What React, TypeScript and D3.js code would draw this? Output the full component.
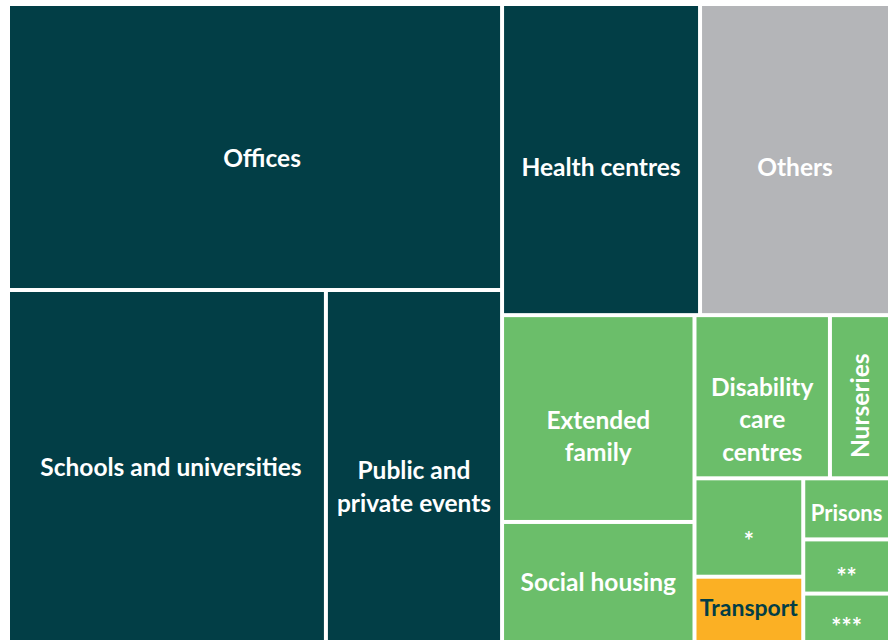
import React from "react";
import * as d3 from "d3";

// Categories (in tile order) and their relative sizes
const categories = [
  "Offices",
  "Schools and universities",
  "Public and private events",
  "Health centres",
  "Others",
  "Extended family",
  "Social housing",
  "Disability care centres",
  "Nurseries",
  "*",
  "Transport",
  "Prisons",
  "**",
  "***",
];
const values = [1413, 1119, 620, 616, 591, 398, 231, 221, 98, 107, 71, 53, 47, 42];
const groups = [
  "dark", "dark", "dark", "dark", "grey",
  "green", "green", "green", "green", "green",
  "orange", "green", "green", "green",
];
// Label lines for each category
const labelLines = [
  ["Offices"],
  ["Schools and universities"],
  ["Public and", "private events"],
  ["Health centres"],
  ["Others"],
  ["Extended", "family"],
  ["Social housing"],
  ["Disability", "care", "centres"],
  ["Nurseries"],
  ["*"],
  ["Transport"],
  ["Prisons"],
  ["**"],
  ["***"],
];

// Tiling structure: "h" = side by side, "v" = stacked
type Node = { dir?: string; children?: Node[]; idx?: number };
const structure: any = ["h",
  ["v", 0, ["h", 1, 2]],
  ["v",
    ["h", 3, 4],
    ["h",
      ["v", 5, 6],
      ["v",
        ["h", 7, 8],
        ["h", ["v", 9, 10], ["v", 11, 12, 13]],
      ],
    ],
  ],
];

function build(s: any): Node {
  if (typeof s === "number") return { idx: s };
  const [dir, ...rest] = s;
  return { dir, children: rest.map(build) };
}

const colors: Record<string, string> = {
  dark: "#023E46",
  grey: "#B4B5B8",
  green: "#6BBE6A",
  orange: "#FBB024",
};
const textColors: Record<string, string> = {
  dark: "#ffffff",
  grey: "#ffffff",
  green: "#ffffff",
  orange: "#033E46",
};

// label nudges (style)
const labelStyle: Record<number, { dx?: number; dy?: number; size?: number; rotate?: boolean }> = {
  0: { dx: 7, dy: 10 },
  1: { dx: 4, dy: 0 },
  2: { dy: 20 },
  3: { dy: 7 },
  4: { dy: 7 },
  5: { dy: 17 },
  6: { dy: 0 },
  7: { dy: 22 },
  8: { dy: 9, rotate: true },
  9: { dy: 13, size: 24 },
  10: { dy: -2, size: 23 },
  11: { dx: 0, dy: 4, size: 22 },
  12: { dy: 10, size: 24 },
  13: { dy: 9, size: 24 },
};

const W = 878;
const H = 634;

export default function App() {
  const root = d3
    .hierarchy<Node>(build(structure))
    .sum((d) => (d.idx !== undefined ? values[d.idx] : 0));

  const tile = (node: any, x0: number, y0: number, x1: number, y1: number) => {
    if (node.data.dir === "h") d3.treemapDice(node, x0, y0, x1, y1);
    else d3.treemapSlice(node, x0, y0, x1, y1);
  };

  const layout = d3.treemap<Node>().size([W, H]).paddingInner(4).tile(tile as any).round(false);
  layout(root);
  const leaves = root.leaves() as any[];

  return (
    <svg
      width={888}
      height={640}
      style={{ position: "absolute", left: 0, top: 0, background: "#ffffff" }}
      fontFamily="Lato, 'Open Sans', sans-serif"
    >
      <g transform="translate(10,6)">
        {leaves.map((n) => {
          const i = n.data.idx as number;
          const g = groups[i];
          const st = labelStyle[i] || {};
          const size = st.size || 24.5;
          const lh = 32.5;
          const cx = (n.x0 + n.x1) / 2 + (st.dx || 0);
          const cy = (n.y0 + n.y1) / 2 + (st.dy || 0);
          const lines = labelLines[i];
          const off = ((lines.length - 1) * lh) / 2;
          return (
            <g key={i}>
              <rect x={n.x0} y={n.y0} width={n.x1 - n.x0} height={n.y1 - n.y0} fill={colors[g]} />
              <text
                transform={`translate(${cx},${cy})${st.rotate ? " rotate(-90)" : ""}`}
                textAnchor="middle"
                fill={textColors[g]}
                fontSize={size}
                fontWeight={700}
              >
                {lines.map((l, k) => (
                  <tspan key={k} x={0} y={k * lh - off} dominantBaseline="central">
                    {l}
                  </tspan>
                ))}
              </text>
            </g>
          );
        })}
      </g>
    </svg>
  );
}
